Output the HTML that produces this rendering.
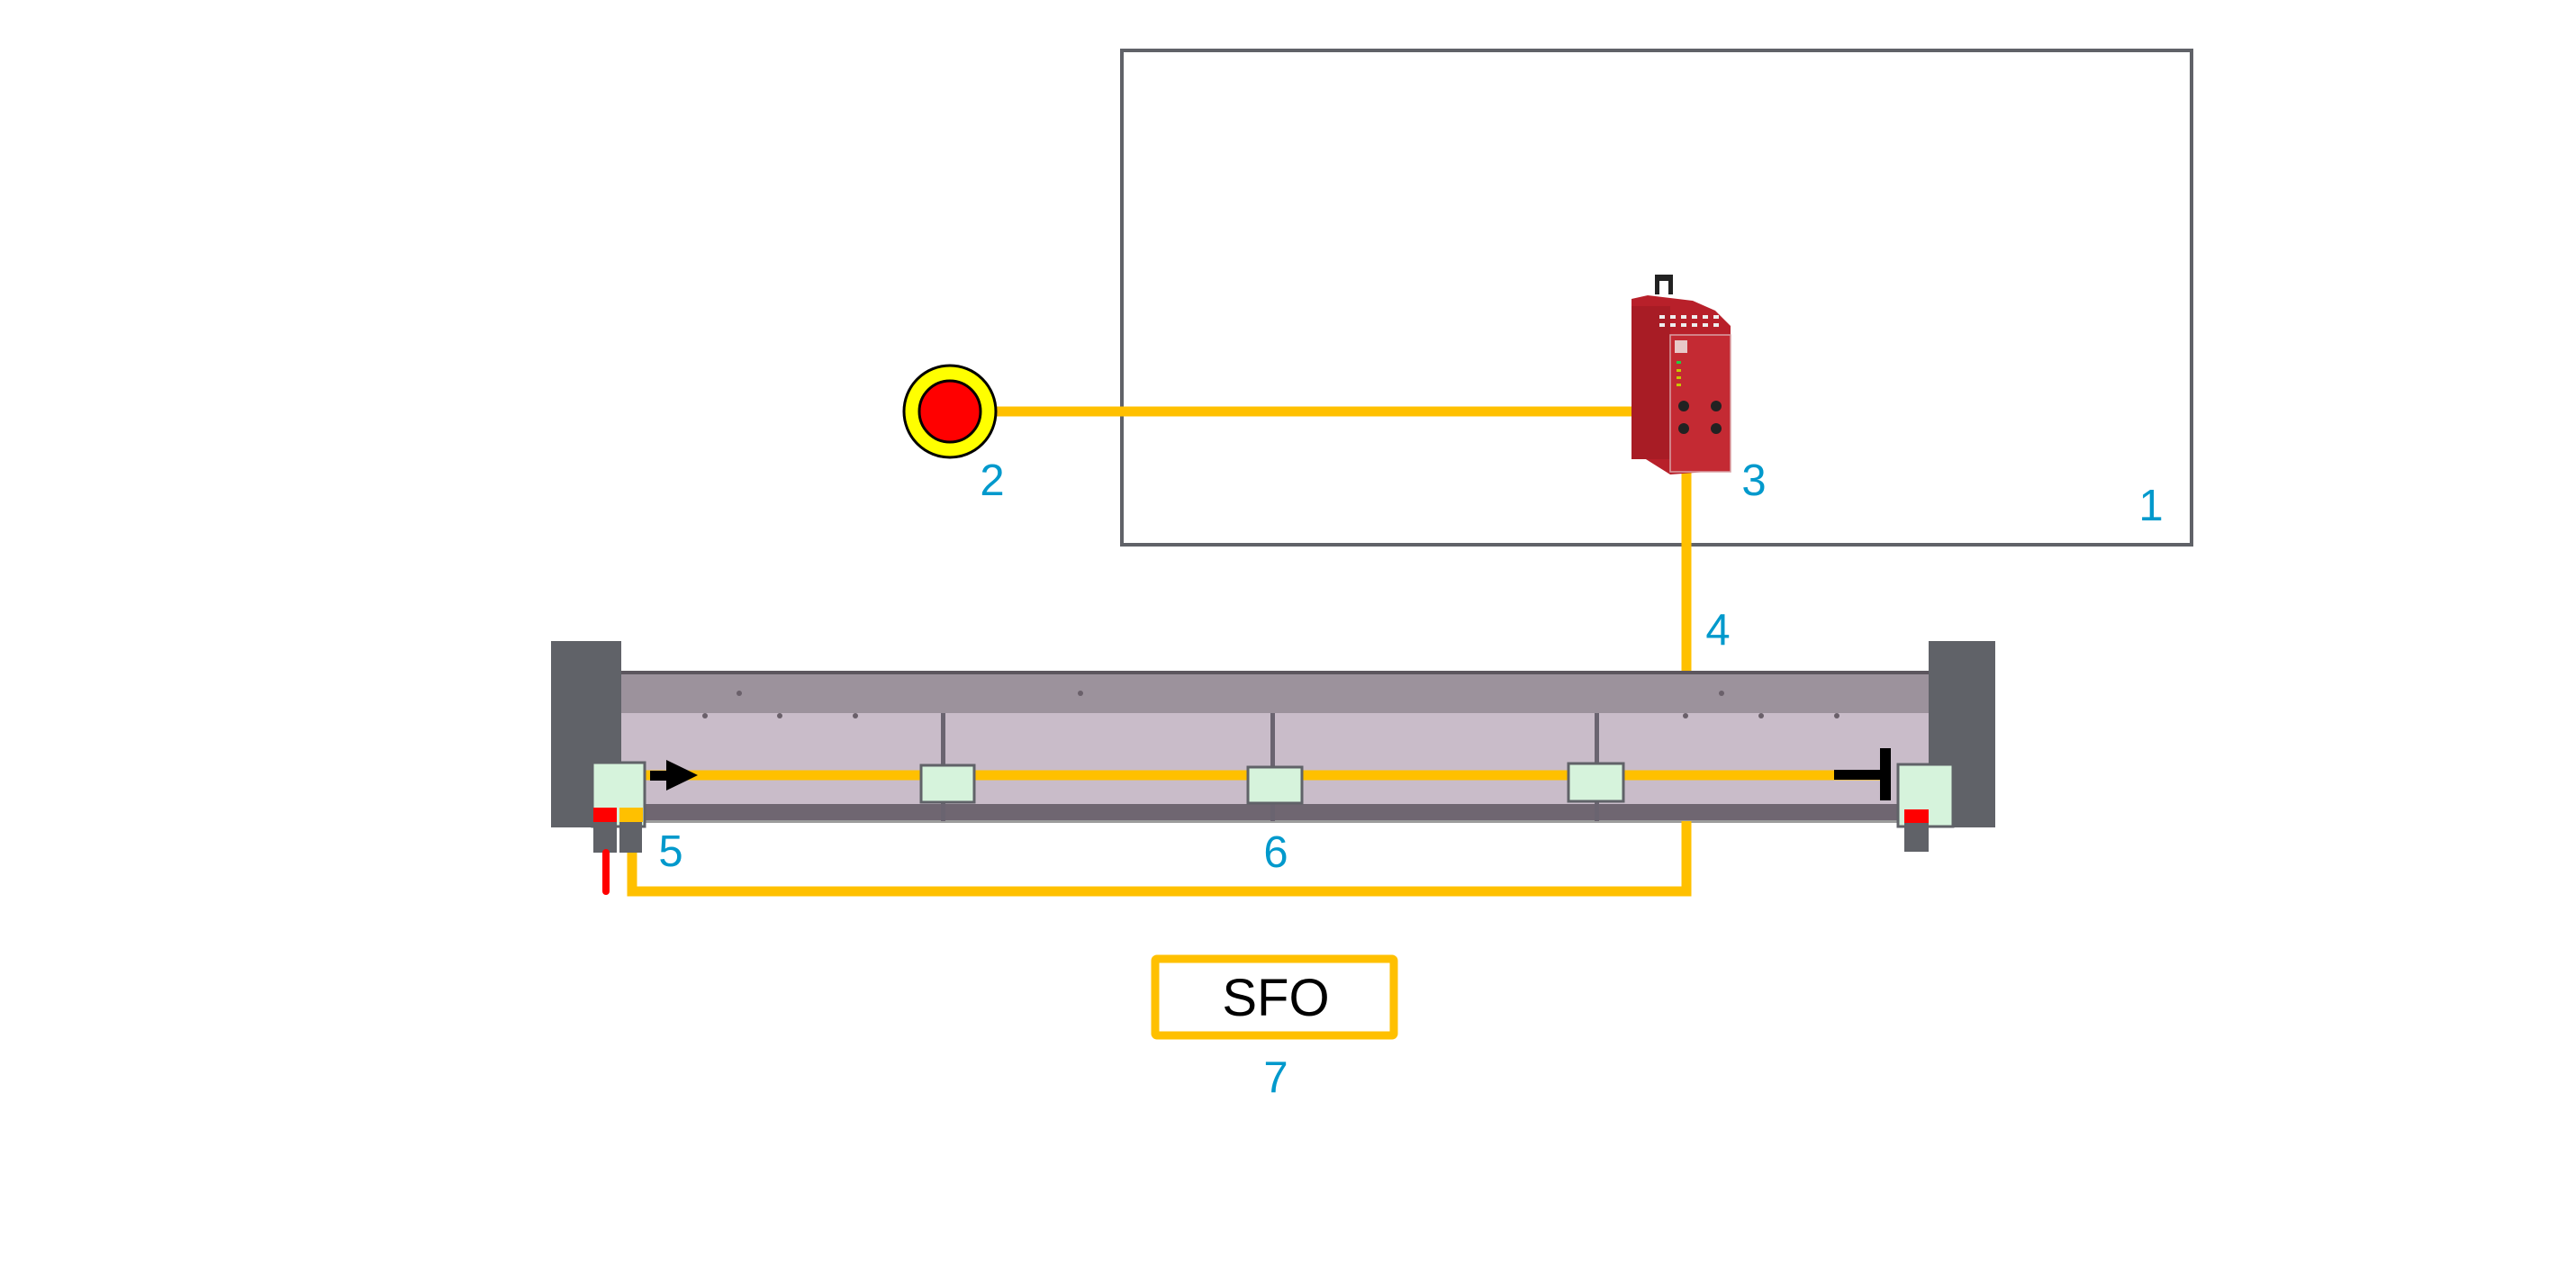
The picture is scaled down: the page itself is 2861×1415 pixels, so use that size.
<!DOCTYPE html>
<html><head><meta charset="utf-8"><style>
html,body{margin:0;padding:0;background:#fff;}
svg{display:block;}
text{font-family:"Liberation Sans",sans-serif;}
</style></head><body>
<svg width="2861" height="1415" viewBox="0 0 2861 1415" xmlns="http://www.w3.org/2000/svg">
<rect x="0" y="0" width="2861" height="1415" fill="#fff"/>
<!-- box 1 -->
<rect x="1246" y="56" width="1188" height="549" fill="none" stroke="#606268" stroke-width="4"/>
<text x="2389" y="578" font-size="49" fill="#0099cc" text-anchor="middle">1</text>

<!-- e-stop -->
<line x1="1100" y1="457" x2="1812" y2="457" stroke="#ffc000" stroke-width="11"/>
<circle cx="1055" cy="457" r="51" fill="#ffff00" stroke="#000" stroke-width="3"/>
<circle cx="1055" cy="457" r="34" fill="#ff0000" stroke="#000" stroke-width="3"/>
<text x="1102" y="550" font-size="49" fill="#0099cc" text-anchor="middle">2</text>

<!-- relay -->
<line x1="1873" y1="515" x2="1873" y2="749" stroke="#ffc000" stroke-width="11"/>
<rect x="1838" y="305" width="20" height="22" fill="#222"/>
<rect x="1843" y="312" width="10" height="15" fill="#fff"/>
<polygon points="1812,332 1830,328 1880,334 1905,345 1922,362 1922,522 1855,527 1812,500" fill="#b8202a"/>
<rect x="1812" y="340" width="43" height="170" fill="#a81c25"/>
<rect x="1855" y="372" width="67" height="152" fill="#c42a33" stroke="#d8a0a4" stroke-width="1.5"/>
<g fill="#eee"><rect x="1843" y="350" width="6" height="4"/><rect x="1855" y="350" width="6" height="4"/><rect x="1867" y="350" width="6" height="4"/><rect x="1879" y="350" width="6" height="4"/><rect x="1891" y="350" width="6" height="4"/><rect x="1903" y="350" width="6" height="4"/>
<rect x="1843" y="359" width="6" height="4"/><rect x="1855" y="359" width="6" height="4"/><rect x="1867" y="359" width="6" height="4"/><rect x="1879" y="359" width="6" height="4"/><rect x="1891" y="359" width="6" height="4"/><rect x="1903" y="359" width="6" height="4"/></g>
<rect x="1860" y="378" width="14" height="14" fill="#e8c8c8"/>
<g fill="#c8c800"><rect x="1862" y="401" width="5" height="3" fill="#22cc44"/><rect x="1862" y="410" width="5" height="3"/><rect x="1862" y="418" width="5" height="3"/><rect x="1862" y="426" width="5" height="3"/></g>
<circle cx="1870" cy="451" r="6" fill="#222"/><circle cx="1906" cy="451" r="6" fill="#222"/>
<circle cx="1870" cy="476" r="6" fill="#222"/><circle cx="1906" cy="476" r="6" fill="#222"/>
<text x="1948" y="550" font-size="49" fill="#0099cc" text-anchor="middle">3</text>
<text x="1908" y="716" font-size="49" fill="#0099cc" text-anchor="middle">4</text>

<!-- rail -->
<rect x="690" y="745" width="1452" height="4" fill="#5c565e"/>
<rect x="690" y="749" width="1452" height="43" fill="#9c929c"/>
<rect x="690" y="792" width="1452" height="101" fill="#c9bcc9"/>
<rect x="690" y="893" width="1452" height="18" fill="#6f6671"/>
<rect x="690" y="911" width="1452" height="3" fill="#3a3a3a" opacity="0.5"/>
<rect x="1045" y="792" width="5" height="120" fill="#6a6470"/>
<rect x="1411" y="792" width="5" height="120" fill="#6a6470"/>
<rect x="1771" y="792" width="5" height="120" fill="#6a6470"/>
<g fill="#6a606a"><circle cx="783" cy="795" r="3"/><circle cx="866" cy="795" r="3"/><circle cx="950" cy="795" r="3"/><circle cx="1872" cy="795" r="3"/><circle cx="1956" cy="795" r="3"/><circle cx="2040" cy="795" r="3"/><circle cx="821" cy="770" r="3"/><circle cx="1200" cy="770" r="3"/><circle cx="1912" cy="770" r="3"/></g>
<!-- posts -->
<rect x="612" y="712" width="78" height="207" fill="#606268"/>
<rect x="2142" y="712" width="74" height="207" fill="#606268"/>

<!-- beam line -->
<line x1="712" y1="861" x2="2100" y2="861" stroke="#ffc000" stroke-width="11"/>
<rect x="722" y="856" width="20" height="11" fill="#000"/>
<polygon points="740,844 775,861 740,878" fill="#000"/>
<rect x="2037" y="855" width="56" height="11" fill="#000"/>
<rect x="2088" y="831" width="12" height="58" fill="#000"/>
<!-- boxes -->
<rect x="1023" y="850" width="59" height="41" fill="#d6f3dc" stroke="#606268" stroke-width="3"/>
<rect x="1386" y="852" width="60" height="40" fill="#d6f3dc" stroke="#606268" stroke-width="3"/>
<rect x="1742" y="848" width="61" height="42" fill="#d6f3dc" stroke="#606268" stroke-width="3"/>
<!-- left sensor -->
<rect x="658" y="847" width="58" height="71" fill="#d6f3dc" stroke="#606268" stroke-width="3"/>
<rect x="659" y="897" width="26" height="16" fill="#ff0000"/>
<rect x="688" y="897" width="26" height="16" fill="#ffc000"/>
<rect x="659" y="913" width="26" height="34" fill="#606268"/>
<rect x="688" y="913" width="25" height="34" fill="#606268"/>
<line x1="673" y1="947" x2="673" y2="990" stroke="#ff0000" stroke-width="8" stroke-linecap="round"/>
<polyline points="702,947 702,990 1873,990 1873,912" fill="none" stroke="#ffc000" stroke-width="11"/>
<!-- right sensor -->
<rect x="2108" y="849" width="61" height="69" fill="#d6f3dc" stroke="#606268" stroke-width="3"/>
<rect x="2115" y="899" width="27" height="15" fill="#ff0000"/>
<rect x="2115" y="914" width="27" height="32" fill="#606268"/>

<text x="745" y="962" font-size="49" fill="#0099cc" text-anchor="middle">5</text>
<text x="1417" y="963" font-size="49" fill="#0099cc" text-anchor="middle">6</text>

<!-- SFO -->
<rect x="1283" y="1065" width="265" height="85" rx="2" fill="#fff" stroke="#ffc000" stroke-width="9"/>
<text x="1417" y="1128" font-size="58" fill="#000" text-anchor="middle">SFO</text>
<text x="1417" y="1213" font-size="49" fill="#0099cc" text-anchor="middle">7</text>
</svg>
</body></html>
